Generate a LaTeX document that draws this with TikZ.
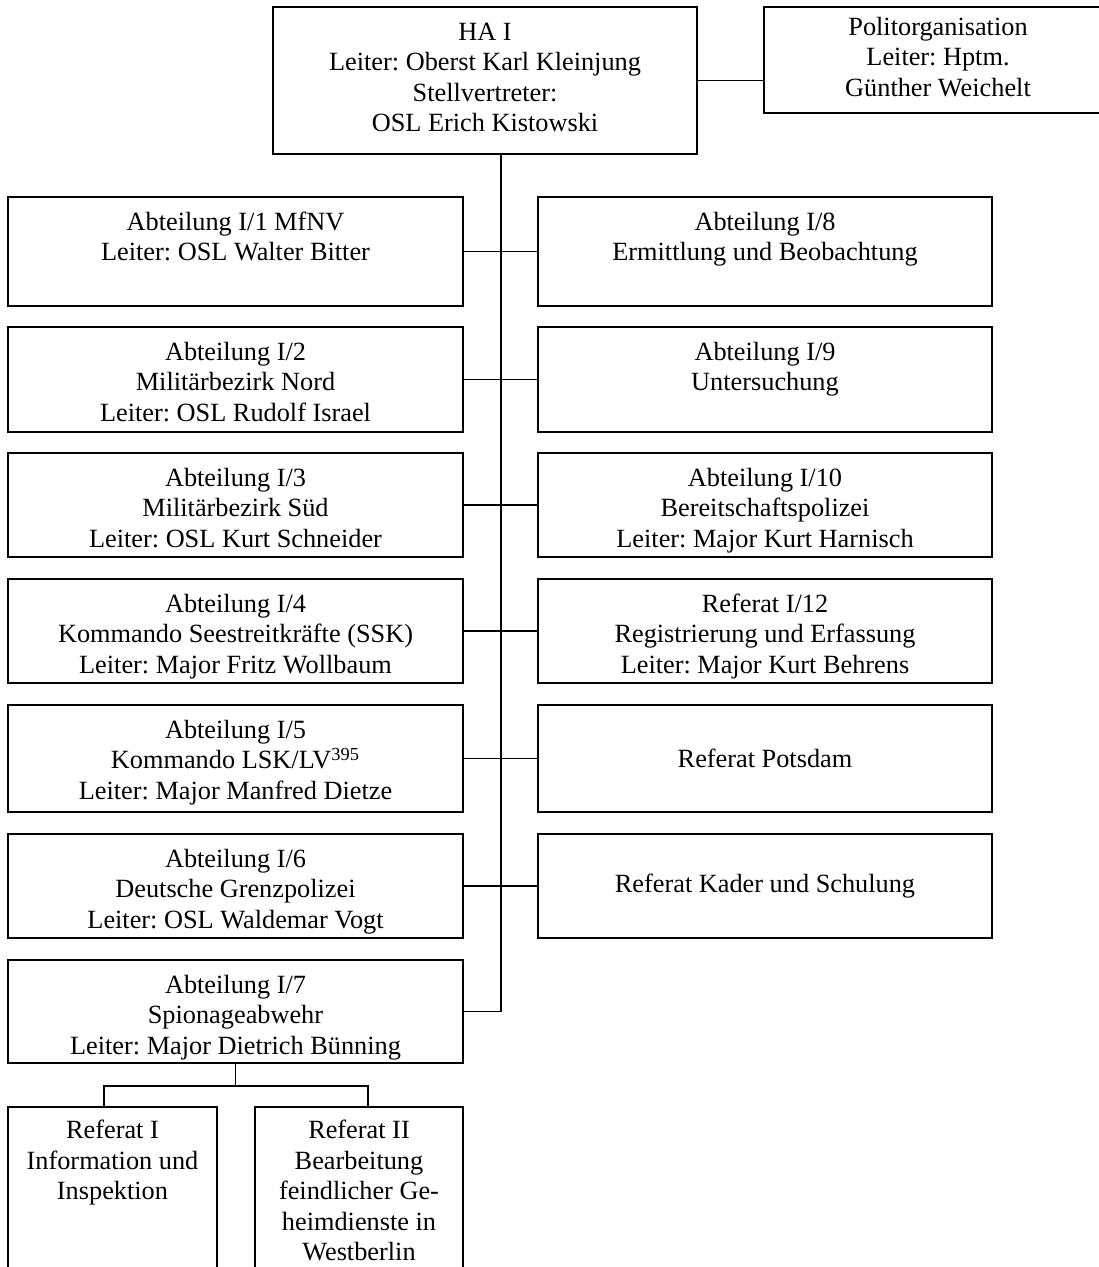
\documentclass[tikz,border=0pt]{standalone}
\usepackage{fontspec}
\setmainfont{Liberation Serif}
\usetikzlibrary{fit}
\newcommand\firstln{\rule{0pt}{10pt}}
\frenchspacing
\begin{document}
\begin{tikzpicture}[x=0.5pt,y=-0.5pt,
  boxst/.style={draw, line width=0.9pt, inner sep=0pt, outer sep=0pt},
  lbl/.style={align=center, inner sep=0pt, font=\fontsize{13.15pt}{15.25pt}\selectfont},
  toplbl/.style={lbl, anchor=north, yshift=-6.5pt},
  sublbl/.style={lbl, anchor=north, yshift=-5.6pt},
  conn/.style={line width=0.9pt}]
\useasboundingbox (0,0) rectangle (1098,1267);
% top
\node[boxst, fit={(273,7) (697,154)}] (hai) {};
\node[toplbl] (haiT) at (hai.north) {\firstln HA I\\Leiter: Oberst Karl Kleinjung\\Stellvertreter:\\OSL Erich Kistowski};
\node[boxst, fit={(764,7) (1112,113)}] (pol) {};
\node[lbl, anchor=north, yshift=-4pt] (polT) at (pol.north) {\firstln Politorganisation\\Leiter: Hptm.\\Günther Weichelt};
% left column
\node[boxst, fit={(8,197) (463,306)}] (l1) {};
\node[toplbl] (l1T) at (l1.north) {\firstln Abteilung I/1 MfNV\\Leiter: OSL Walter Bitter};
\node[boxst, fit={(8,327) (463,432)}] (l2) {};
\node[toplbl] (l2T) at (l2.north) {\firstln Abteilung I/2\\Militärbezirk Nord\\Leiter: OSL Rudolf Israel};
\node[boxst, fit={(8,453) (463,557)}] (l3) {};
\node[toplbl] (l3T) at (l3.north) {\firstln Abteilung I/3\\Militärbezirk Süd\\Leiter: OSL Kurt Schneider};
\node[boxst, fit={(8,579) (463,683)}] (l4) {};
\node[toplbl] (l4T) at (l4.north) {\firstln Abteilung I/4\\Kommando Seestreitkräfte (SSK)\\Leiter: Major Fritz Wollbaum};
\node[boxst, fit={(8,705) (463,812)}] (l5) {};
\node[toplbl] (l5T) at (l5.north) {\firstln Abteilung I/5\\Kommando LSK/LV\textsuperscript{395}\\Leiter: Major Manfred Dietze};
\node[boxst, fit={(8,834) (463,938)}] (l6) {};
\node[toplbl] (l6T) at (l6.north) {\firstln Abteilung I/6\\Deutsche Grenzpolizei\\Leiter: OSL Waldemar Vogt};
\node[boxst, fit={(8,960) (463,1063)}] (l7) {};
\node[toplbl] (l7T) at (l7.north) {\firstln Abteilung I/7\\Spionageabwehr\\Leiter: Major Dietrich Bünning};
% right column
\node[boxst, fit={(538,197) (992,306)}] (r1) {};
\node[toplbl] (r1T) at (r1.north) {\firstln Abteilung I/8\\Ermittlung und Beobachtung};
\node[boxst, fit={(538,327) (992,432)}] (r2) {};
\node[toplbl] (r2T) at (r2.north) {\firstln Abteilung I/9\\Untersuchung};
\node[boxst, fit={(538,453) (992,557)}] (r3) {};
\node[toplbl] (r3T) at (r3.north) {\firstln Abteilung I/10\\Bereitschaftspolizei\\Leiter: Major Kurt Harnisch};
\node[boxst, fit={(538,579) (992,683)}] (r4) {};
\node[toplbl] (r4T) at (r4.north) {\firstln Referat I/12\\Registrierung und Erfassung\\Leiter: Major Kurt Behrens};
\node[boxst, fit={(538,705) (992,812)}] (r5) {};
\node[lbl] (r5T) at (r5.center) {Referat Potsdam};
\node[boxst, fit={(538,834) (992,938)}] (r6) {};
\node[lbl] (r6T) at (r6.center) {Referat Kader und Schulung};
% sub boxes
\node[boxst, fit={(8,1107) (217,1300)}] (s1) {};
\node[sublbl] (s1T) at (s1.north) {\firstln Referat I\\Information und\\Inspektion};
\node[boxst, fit={(255,1107) (463,1300)}] (s2) {};
\node[sublbl] (s2T) at (s2.north) {\firstln Referat II\\Bearbeitung\\feindlicher Ge-\\heimdienste in\\Westberlin};
% connectors
\coordinate (tx) at (501,0);
\coordinate (d1) at (104,1086);
\coordinate (d2) at (368,1086);
\draw[conn] (hai.east) -- (hai.east -| pol.west);
\draw[conn] (hai.south -| tx) |- (l7.east);
\draw[conn] (l1.east) -- (r1.west);
\draw[conn] (l2.east) -- (r2.west);
\draw[conn] (l3.east) -- (r3.west);
\draw[conn] (l4.east) -- (r4.west);
\draw[conn] (l5.east) -- (r5.west);
\draw[conn] (l6.east) -- (r6.west);
\draw[conn] (l7.south) |- (d1) -- (d1 |- s1.north);
\draw[conn] (d1) -- (d2) -- (d2 |- s2.north);
\end{tikzpicture}
\end{document}
